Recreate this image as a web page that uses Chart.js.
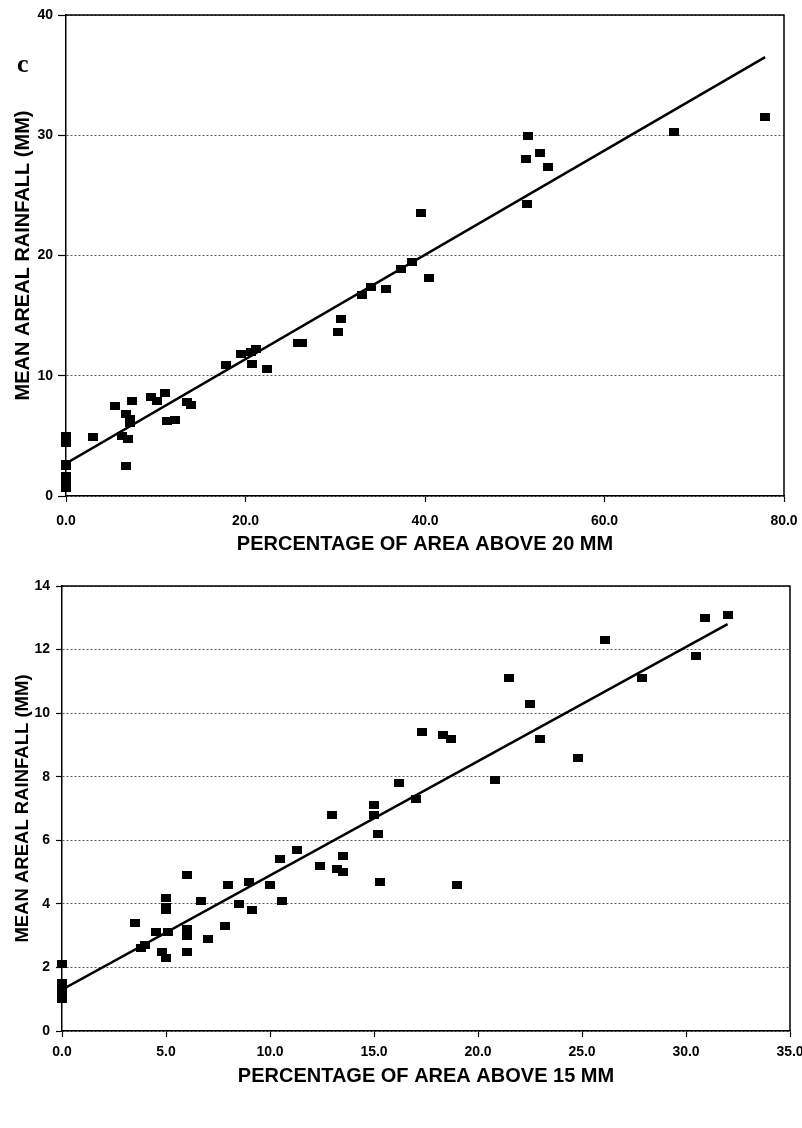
<!DOCTYPE html>
<html>
<head>
<meta charset="utf-8">
<script src="https://cdn.jsdelivr.net/npm/chart.js@4/dist/chart.umd.min.js"></script>
<style>
  html, body { margin: 0; padding: 0; background: #fff; }
  #wrap { position: relative; width: 802px; height: 1128px; }
  canvas { position: absolute; left: 0; }
</style>
</head>
<body>
<div id="wrap">
  <canvas id="chartC" width="802" height="560" style="top:0px"></canvas>
  <canvas id="chartD" width="802" height="568" style="top:560px"></canvas>
</div>
<script>
// panel c: percentage of area above 20 mm vs mean areal rainfall
const pctAbove20 = [0.0, 0.0, 0.0, 0.0, 0.0, 0.0, 0.0, 0.0, 3.0, 5.5, 6.2, 6.7, 6.9, 6.7, 7.1, 7.1, 7.4,
  9.5, 10.1, 11.0, 11.3, 12.1, 13.5, 13.9, 17.8, 19.5, 20.6, 20.7, 21.2, 22.4, 25.8, 26.3,
  30.3, 30.6, 33.0, 34.0, 35.6, 37.3, 38.6, 39.6, 40.5, 51.2, 51.5, 51.4, 52.8, 53.7, 67.7, 77.9];
const rainC = [5.0, 4.4, 2.7, 2.5, 1.7, 1.3, 1.0, 0.7, 4.9, 7.5, 5.0, 6.8, 4.7, 2.5, 6.4, 6.1, 7.9,
  8.2, 7.9, 8.6, 6.2, 6.3, 7.8, 7.6, 10.9, 11.8, 12.0, 11.0, 12.25, 10.6, 12.7, 12.7,
  13.6, 14.75, 16.7, 17.4, 17.2, 18.9, 19.5, 23.5, 18.1, 28.0, 29.9, 24.3, 28.5, 27.4, 30.3, 31.55];
const fitC_x = [0, 77.9];
const fitC_y = [2.7, 36.5];
const xTicksC = [0, 20, 40, 60, 80];
const yTicksC = [0, 10, 20, 30, 40];

// panel d: percentage of area above 15 mm vs mean areal rainfall
const pctAbove15 = [0, 0, 0, 0, 0, 3.5, 3.8, 4.0, 4.5, 4.8, 5.0, 5.0, 5.0, 5.0, 5.1, 6.0, 6.0, 6.0, 6.0,
  6.7, 7.0, 7.85, 8.0, 8.5, 9.0, 9.15, 10.0, 10.5, 10.6, 11.3, 12.4, 13.0, 13.2, 13.5, 13.5,
  15.0, 15.0, 15.2, 15.3, 16.2, 17.0, 17.3, 18.3, 18.7, 19.0, 20.8, 21.5, 22.5, 23.0, 24.8,
  26.1, 27.9, 30.5, 30.9, 32.0];
const rainD = [2.1, 1.5, 1.4, 1.2, 1.0, 3.4, 2.6, 2.7, 3.1, 2.5, 2.3, 4.2, 3.9, 3.8, 3.1, 4.9, 3.2, 3.0, 2.5,
  4.1, 2.9, 3.3, 4.6, 4.0, 4.7, 3.8, 4.6, 5.4, 4.1, 5.7, 5.2, 6.8, 5.1, 5.5, 5.0,
  7.1, 6.8, 6.2, 4.7, 7.8, 7.3, 9.4, 9.3, 9.2, 4.6, 7.9, 11.1, 10.3, 9.2, 8.6,
  12.3, 11.1, 11.8, 13.0, 13.1];
const fitD_x = [0, 32.0];
const fitD_y = [1.3, 12.8];
const xTicksD = [0, 5, 10, 15, 20, 25, 30, 35];
const yTicksD = [0, 2, 4, 6, 8, 10, 12, 14];

const FONT = 'Arial, "Liberation Sans", sans-serif';

function marker() {
  const c = document.createElement('canvas');
  c.width = 10; c.height = 8;
  const g = c.getContext('2d');
  g.fillStyle = '#000';
  g.fillRect(0, 0, 10, 8);
  return c;
}

// box round the plot + the panel letter
const framePlugin = {
  id: 'frame',
  afterDraw(chart, args, opts) {
    const a = chart.chartArea, ctx = chart.ctx;
    ctx.save();
    ctx.strokeStyle = '#000';
    ctx.lineWidth = 1.5;
    ctx.beginPath();
    ctx.moveTo(a.left, a.top);
    ctx.lineTo(a.right, a.top);
    ctx.lineTo(a.right, a.bottom);
    ctx.stroke();
    ctx.fillStyle = '#000';
    ctx.font = opts.font;
    ctx.textBaseline = 'alphabetic';
    ctx.fillText(opts.letter, opts.x, opts.y);
    ctx.restore();
  }
};

function makePanel(id, p) {
  const pts = p.xs.map((x, i) => ({ x: x, y: p.ys[i] }));
  const fit = p.fx.map((x, i) => ({ x: x, y: p.fy[i] }));
  new Chart(document.getElementById(id), {
    type: 'scatter',
    data: {
      datasets: [
        { data: pts, pointStyle: marker(), pointRadius: 5, pointHoverRadius: 5, clip: false },
        { type: 'line', data: fit, borderColor: '#000', borderWidth: 2.5, pointRadius: 0, fill: false }
      ]
    },
    options: {
      responsive: false,
      animation: false,
      events: [],
      layout: { padding: p.pad },
      plugins: {
        legend: { display: false },
        tooltip: { enabled: false },
        frame: p.letter
      },
      scales: {
        x: {
          min: p.xTicks[0], max: p.xTicks[p.xTicks.length - 1],
          afterBuildTicks: s => { s.ticks = p.xTicks.map(v => ({ value: v })); },
          afterFit: s => { s.height = p.xH; s.paddingLeft = 0; s.paddingRight = 0; },
          grid: { drawOnChartArea: false, tickLength: 6, tickColor: '#000', tickWidth: 1.2 },
          border: { color: '#000', width: 1.5 },
          ticks: { padding: p.xPad, color: '#000', maxRotation: 0, font: { family: FONT, size: 14, weight: 'bold' },
            callback: v => v.toFixed(1) },
          title: { display: true, text: p.xTitle, color: '#000', padding: { top: 0, bottom: p.xTitlePad },
            font: { family: FONT, size: 20, weight: 'bold' } }
        },
        y: {
          min: p.yTicks[0], max: p.yTicks[p.yTicks.length - 1],
          afterBuildTicks: s => { s.ticks = p.yTicks.map(v => ({ value: v })); },
          afterFit: s => { s.width = p.yW; s.paddingTop = 0; s.paddingBottom = 0; },
          grid: { color: '#555', lineWidth: 1, tickLength: p.yTickLen, tickColor: '#000', tickWidth: 1.2, tickBorderDash: [] },
          border: { color: '#000', width: 1.5, dash: [2, 2] },
          ticks: { padding: p.yPad, color: '#000', font: { family: FONT, size: 14, weight: 'bold' } },
          title: { display: true, text: 'MEAN AREAL RAINFALL (MM)', color: '#000', padding: { top: p.yTitlePad, bottom: 0 },
            font: { family: FONT, size: p.yTitleSize, weight: 'bold' } }
        }
      }
    },
    plugins: [framePlugin]
  });
}

makePanel('chartC', {
  xs: pctAbove20, ys: rainC, fx: fitC_x, fy: fitC_y,
  xTicks: xTicksC, yTicks: yTicksC,
  pad: { top: 15, right: 18, left: 0, bottom: 0 },
  xH: 64, yW: 66, xPad: 11, yPad: 5, yTickLen: 8,
  xTitle: 'PERCENTAGE OF AREA ABOVE 20 MM', xTitlePad: 4,
  yTitlePad: 11, yTitleSize: 20,
  letter: { letter: 'c', x: 17, y: 72, font: 'bold 26px "Liberation Serif", "Times New Roman", serif' }
});

makePanel('chartD', {
  xs: pctAbove15, ys: rainD, fx: fitD_x, fy: fitD_y,
  xTicks: xTicksD, yTicks: yTicksD,
  pad: { top: 26, right: 12, left: 0, bottom: 0 },
  xH: 97, yW: 62, xPad: 7, yPad: 6, yTickLen: 6,
  xTitle: 'PERCENTAGE OF AREA ABOVE 15 MM', xTitlePad: 40,
  yTitlePad: 12, yTitleSize: 18.5,
  letter: { letter: 'd', x: 10, y: 633, font: 'bold 30px "Liberation Serif", "Times New Roman", serif' }
});
</script>
</body>
</html>
